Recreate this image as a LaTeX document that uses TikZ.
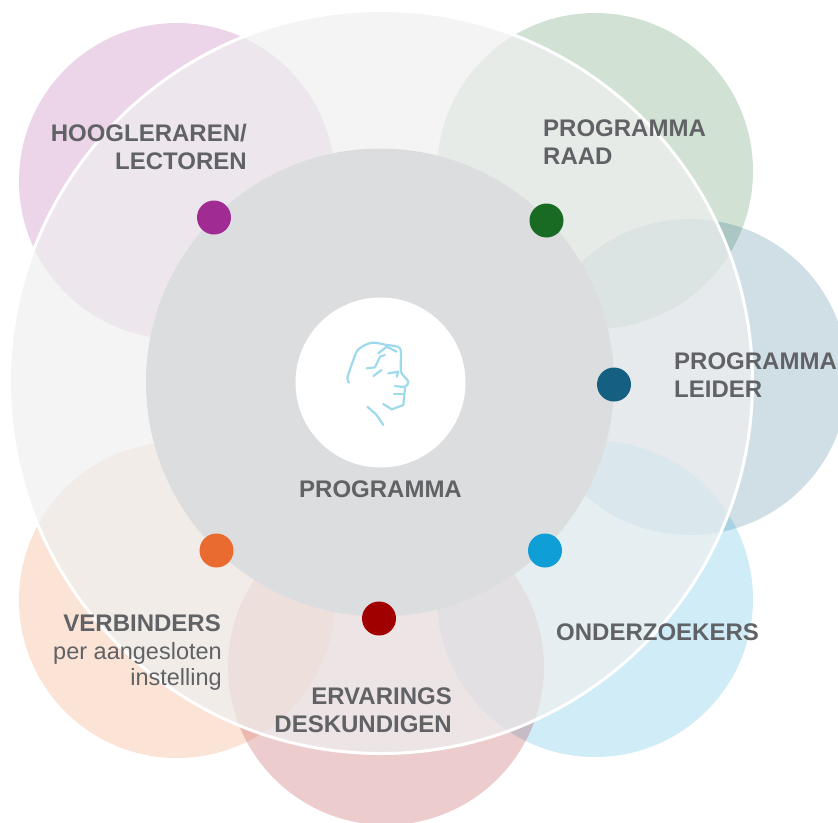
\documentclass[tikz,border=0pt]{standalone}
\usepackage{fontspec}
\setmainfont{Liberation Sans}
\usepackage{xcolor}
\definecolor{pinkish}{HTML}{A02B93}
\definecolor{greenish}{HTML}{196B24}
\definecolor{deepblue}{HTML}{156082}
\definecolor{skyblue}{HTML}{0F9ED5}
\definecolor{darkred}{HTML}{A00000}
\definecolor{orangish}{HTML}{E97132}
\definecolor{labelgrey}{HTML}{606266}
\definecolor{sketchblue}{HTML}{9FDAEC}
\definecolor{midgrey}{HTML}{DCDDDF}
\definecolor{haze}{HTML}{EFF0F0}

\begin{document}
\begin{tikzpicture}[x=1pt, y=-1pt,
    petal/.style={circle, minimum size=316pt, inner sep=0pt, fill opacity=0.2},
    dot/.style={circle, minimum size=34pt, inner sep=0pt},
    rolelabel/.style={inner sep=0pt, text=labelgrey, font=\fontsize{24}{28}\selectfont\bfseries},
    sketchline/.style={draw=sketchblue, line width=2.2pt, line cap=round, line join=round}]

\useasboundingbox (0,0) rectangle (838,822);

% Petals
\node (hoogCircle) [petal, fill=pinkish] at (177,181) {};
\node (raadCircle) [petal, fill=greenish] at (595,171) {};
\node (leiderCircle) [petal, fill=deepblue] at (690,377) {};
\node (onderCircle) [petal, fill=skyblue] at (595,599) {};
\node (ervarCircle) [petal, fill=darkred] at (386,667) {};
\node (verbCircle) [petal, fill=orangish] at (177,600) {};

% Rings
\node (outerRing) [circle, minimum size=743pt, inner sep=0pt, fill=haze, fill opacity=0.7, draw=white, draw opacity=1, line width=3pt] at (381,382) {};
\node (midRing) [circle, minimum size=468pt, inner sep=0pt, fill=midgrey] at (380,382.5) {};
\node (innerRing) [circle, minimum size=170pt, inner sep=0pt, fill=white] at (380.5,382.5) {};

% Portrait
\begin{scope}[shift={(290,290)}, scale=1/3]
\draw[sketchline] plot[smooth] coordinates {(178,278) (172,265) (190,210) (205,178) (245,158) (290,165) (330,175) (332,230) (335,250) (355,275) (345,290) (315,288)};
\draw[sketchline] (265,190) -- (290,170) -- (320,185);
\draw[sketchline] (230,235) -- (255,232) -- (270,200) -- (285,195);
\draw[sketchline] (250,258) -- (275,240);
\draw[sketchline] (295,250) -- (325,245) -- (320,260);
\draw[sketchline] (312,312) -- (340,312);
\draw[sketchline] (345,295) -- (340,345) -- (305,358) -- (280,342);
\draw[sketchline] (232,350) -- (260,375) -- (280,405);
\end{scope}

% Dots
\node (hoogDot) [dot, fill=pinkish] at (214,217.5) {};
\node (raadDot) [dot, fill=greenish] at (546.5,220.5) {};
\node (leiderDot) [dot, fill=deepblue] at (614,384.5) {};
\node (onderDot) [dot, fill=skyblue] at (545,550.5) {};
\node (ervarDot) [dot, fill=darkred] at (379,618.5) {};
\node (verbDot) [dot, fill=orangish!95!red] at (216.5,550.5) {};

% Labels
\node (hoogLabel) [rolelabel, align=right, anchor=east] at (247,147) {HOOGLERAREN/\\LECTOREN};
\node (raadLabel) [rolelabel, align=left, anchor=west] at (543,142.5) {PROGRAMMA\\RAAD};
\node (leiderLabel) [rolelabel, align=left, anchor=west] at (674,375) {PROGRAMMA\\LEIDER};
\node (onderLabel) [rolelabel, anchor=west] at (556,632.5) {ONDERZOEKERS};
\node (ervarLabel) [rolelabel, align=right, anchor=east] at (452,710.5) {ERVARINGS\\DESKUNDIGEN};
\node (progLabel) [rolelabel] at (380.5,489.5) {PROGRAMMA};
\node (verbLabel) [rolelabel, anchor=east] at (221,623.5) {VERBINDERS};
\node (verbSub) [inner sep=0pt, text=labelgrey, font=\fontsize{23.5}{26}\selectfont, align=right, anchor=north east] at (222,642) {per aangesloten\\instelling};

\end{tikzpicture}
\end{document}
